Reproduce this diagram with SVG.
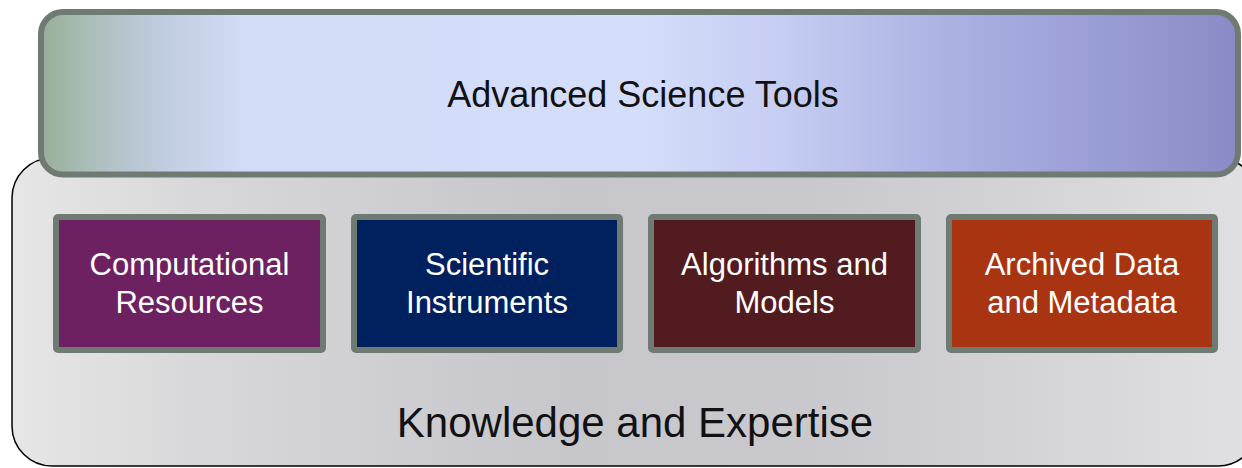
<svg xmlns="http://www.w3.org/2000/svg" width="1242" height="468" viewBox="0 0 1242 468">
  <defs>
    <linearGradient id="gTop" gradientUnits="userSpaceOnUse" x1="41" y1="0" x2="1238" y2="0">
      <stop offset="0" stop-color="#98ae98"/>
      <stop offset="0.04" stop-color="#abbdb8"/>
      <stop offset="0.1" stop-color="#c0cce0"/>
      <stop offset="0.17" stop-color="#d2dcf6"/>
      <stop offset="0.5" stop-color="#d4ddfa"/>
      <stop offset="0.62" stop-color="#c6cdf2"/>
      <stop offset="0.75" stop-color="#adb3e3"/>
      <stop offset="0.88" stop-color="#9a9ed6"/>
      <stop offset="1" stop-color="#8a8bc6"/>
    </linearGradient>
    <linearGradient id="gBottom" gradientUnits="userSpaceOnUse" x1="12" y1="0" x2="1242" y2="0">
      <stop offset="0" stop-color="#e6e6e6"/>
      <stop offset="0.15" stop-color="#d8d8da"/>
      <stop offset="0.45" stop-color="#c6c6cb"/>
      <stop offset="0.65" stop-color="#c8c8cd"/>
      <stop offset="1" stop-color="#e0e0e2"/>
    </linearGradient>
  </defs>
  <style>
    .box { stroke: #6f7a73; stroke-width: 6; }
    .lbl { font-family: "Liberation Sans", Arial, sans-serif; font-size: 31px; fill: #ffffff; text-anchor: middle; }
    .big { font-family: "Liberation Sans", Arial, sans-serif; fill: #111111; text-anchor: middle; }
  </style>
  <rect width="1242" height="468" fill="#ffffff"/>
  <g id="knowledge">
    <rect x="12" y="158" width="1246" height="308" rx="40" ry="40" fill="url(#gBottom)" stroke="#000000" stroke-width="1.5"/>
    <text class="big" x="635" y="437" font-size="42">Knowledge and Expertise</text>
  </g>
  <g id="tools">
    <rect x="41" y="12" width="1197" height="162.5" rx="22" ry="22" fill="url(#gTop)" stroke="#6f7a73" stroke-width="6"/>
    <text class="big" x="643" y="107" font-size="36">Advanced Science Tools</text>
  </g>
  <g id="computational">
    <rect class="box" x="56" y="217" width="267" height="133" rx="2" fill="#6d2161"/>
    <text class="lbl" x="189.5" y="275">Computational</text>
    <text class="lbl" x="189.5" y="313">Resources</text>
  </g>
  <g id="instruments">
    <rect class="box" x="354" y="217" width="266" height="133" rx="2" fill="#00215e"/>
    <text class="lbl" x="487" y="275">Scientific</text>
    <text class="lbl" x="487" y="313">Instruments</text>
  </g>
  <g id="algorithms">
    <rect class="box" x="651" y="217" width="267" height="133" rx="2" fill="#521b20"/>
    <text class="lbl" x="784.5" y="275">Algorithms and</text>
    <text class="lbl" x="784.5" y="313">Models</text>
  </g>
  <g id="archived">
    <rect class="box" x="949" y="217" width="266" height="133" rx="2" fill="#a93412"/>
    <text class="lbl" x="1082" y="275">Archived Data</text>
    <text class="lbl" x="1082" y="313">and Metadata</text>
  </g>
  <g id="connectors"></g>
</svg>
